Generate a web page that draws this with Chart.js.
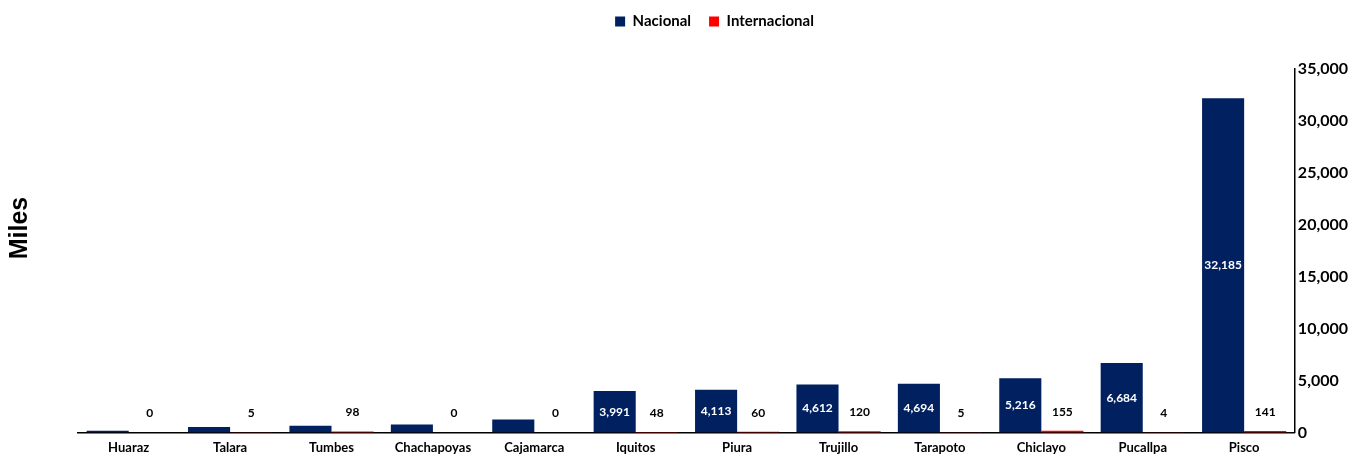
<!DOCTYPE html>
<html>
<head>
<meta charset="utf-8">
<script src="https://cdn.jsdelivr.net/npm/chart.js@4"></script>
<style>
  html, body { margin: 0; padding: 0; background: #fff; }
  #wrap { width: 1357px; height: 456px; }
</style>
</head>
<body>
<div id="wrap"><canvas id="barChart" width="1357" height="456"></canvas></div>
<script>
const categories = ['Huaraz', 'Talara', 'Tumbes', 'Chachapoyas', 'Cajamarca', 'Iquitos',
    'Piura', 'Trujillo', 'Tarapoto', 'Chiclayo', 'Pucallpa', 'Pisco'];
const nacional = [150, 530, 630, 770, 1250, 3991, 4113, 4612, 4694, 5216, 6684, 32185];
const internacional = [0, 5, 98, 0, 0, 48, 60, 120, 5, 155, 4, 141];
// the reference only labels the larger national bars
const nacionalShowLabel = [false, false, false, false, false, true, true, true, true, true, true, true];
const yTicks = [0, 5000, 10000, 15000, 20000, 25000, 30000, 35000];

const fontFamily = 'Lato, "Open Sans", sans-serif';
const fmt = v => v.toLocaleString('en-US');

// simple value labels (no datalabels plugin available)
const valueLabels = {
    id: 'valueLabels',
    afterDatasetsDraw(chart) {
        const ctx = chart.ctx;
        ctx.save();
        ctx.textAlign = 'center';
        ctx.textBaseline = 'middle';
        ctx.font = 'bold 12px ' + fontFamily;
        chart.getDatasetMeta(0).data.forEach((bar, i) => {
            if (!nacionalShowLabel[i]) return;
            ctx.fillStyle = '#ffffff';
            ctx.fillText(fmt(nacional[i]), bar.x, (bar.y + bar.base) / 2);
        });
        chart.getDatasetMeta(1).data.forEach((bar, i) => {
            ctx.fillStyle = '#000000';
            ctx.fillText(fmt(internacional[i]), bar.x, bar.y - 19);
        });
        ctx.restore();
    }
};

// "Miles" sits a bit above the middle of the plot in the original
const sideTitle = {
    id: 'sideTitle',
    afterDraw(chart) {
        const ctx = chart.ctx;
        ctx.save();
        ctx.translate(20, 228);
        ctx.rotate(-Math.PI / 2);
        ctx.textAlign = 'center';
        ctx.textBaseline = 'middle';
        ctx.fillStyle = '#000';
        ctx.font = 'bold 25px "Liberation Sans", Arial, sans-serif';
        ctx.fillText('Miles', 0, 0);
        ctx.restore();
    }
};

// extra room under the legend
const legendGap = {
    id: 'legendGap',
    beforeInit(chart) {
        const fit = chart.legend.fit;
        chart.legend.fit = function () {
            fit.call(this);
            this.height += 30;
        };
    }
};

new Chart(document.querySelector('#barChart'), {
    type: 'bar',
    data: {
        labels: categories,
        datasets: [
            {
                label: 'Nacional',
                data: nacional,
                backgroundColor: '#002060'
            },
            {
                label: 'Internacional',
                data: internacional,
                backgroundColor: '#ff0000'
            }
        ]
    },
    options: {
        responsive: false,
        animation: false,
        layout: { padding: { top: -4, left: 78, right: 6, bottom: -8 } },
        datasets: {
            bar: { categoryPercentage: 0.83, barPercentage: 1 }
        },
        plugins: {
            legend: {
                position: 'top',
                labels: {
                    boxWidth: 10,
                    boxHeight: 10,
                    padding: 18,
                    color: '#000',
                    font: { family: fontFamily, size: 15, weight: 'bold' }
                }
            },
            tooltip: { enabled: false }
        },
        scales: {
            x: {
                grid: { display: false, drawTicks: false },
                border: { display: true, color: '#000', width: 1.5 },
                ticks: {
                    color: '#000',
                    padding: 8,
                    maxRotation: 0,
                    font: { family: fontFamily, size: 13, weight: 'bold' }
                }
            },
            y: {
                position: 'right',
                min: 0,
                max: 35000,
                afterBuildTicks: axis => { axis.ticks = yTicks.map(v => ({ value: v })); },
                grid: { display: false, drawTicks: false },
                border: { display: true, color: '#000', width: 1.5 },
                ticks: {
                    color: '#000',
                    padding: 3,
                    font: { family: fontFamily, size: 16, weight: 'bold' },
                    callback: v => fmt(v)
                }
            }
        }
    },
    plugins: [valueLabels, legendGap, sideTitle]
});
</script>
</body>
</html>
